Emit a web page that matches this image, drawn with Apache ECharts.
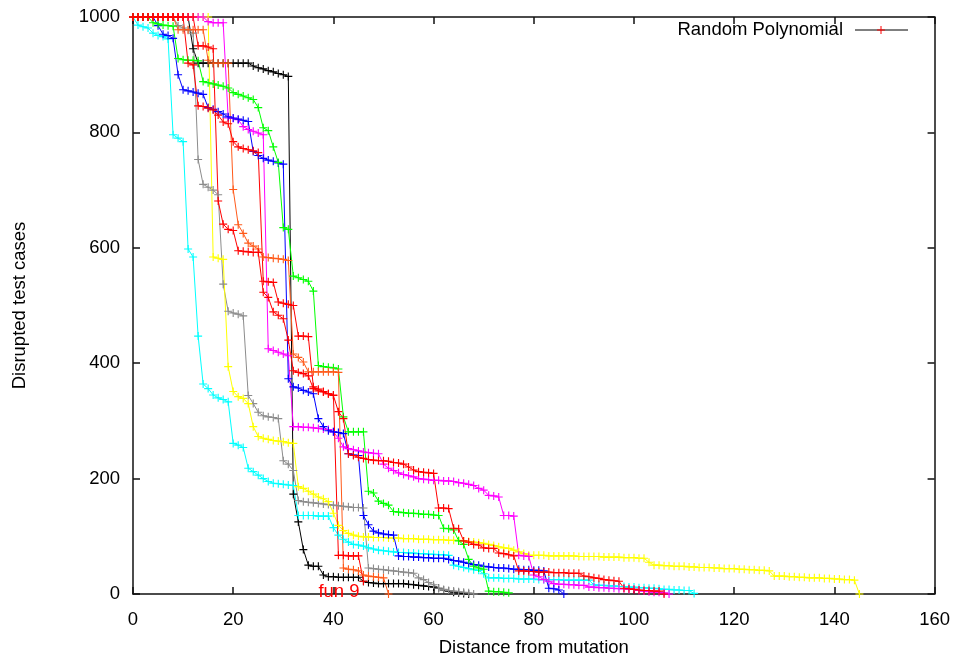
<!DOCTYPE html>
<html><head><meta charset="utf-8">
<script src="https://cdn.jsdelivr.net/npm/echarts@6/dist/echarts.min.js"></script>
<style>html,body{margin:0;padding:0;background:#fff}#c{width:953px;height:662px}</style>
</head><body><div id="c"></div>
<script>
// Each array: y values at x = 0,1,2,... (index = distance from mutation)
const blackY = [1000,1000,1000,1000,1000,1000,1000,1000,1000,1000,1000,1000,
945,920,920,920,920,920,920,920,920,920,920,920,
915,912,910,907,905,902,900,897,
173,125,77,50,48,48,33,30,30,29,29,29,29,29,
22,20,19,18,18,18,18,18,18,17,16,15,14,13,12,
10,7,5,3,2,1,0];
const grayY = [1000,1000,1000,1000,1000,1000,1000,1000,1000,
985,981,977,972,
753,710,705,700,692,
537,490,487,485,482,
344,330,315,309,307,306,304,
231,225,214,
162,160,159,158,157,156,155,154,153,152,151,150,150,149,
45,44,43,42,41,40,39,38,37,36,
28,25,20,16,10,8,6,5,4,3,2,0];
const yellowY = [1000,1000,1000,1000,1000,1000,1000,1000,1000,1000,1000,1000,1000,1000,1000,1000,
584,582,580,
394,351,342,339,330,
290,
273,270,268,266,265,264,262,261,
186,183,178,173,168,165,160,
140,119,110,105,102,
100,99,99,98,98,98,97,97,97,96,96,96,95,95,95,94,94,94,93,93,
93,92,91,90,89,88,86,84,82,80,
79,76,73,70,67,
67,67,67,66,66,66,66,66,66,65,65,65,65,65,64,64,64,64,63,63,63,62,62,
55,50,
50,49,49,48,48,48,47,47,46,46,46,45,
45,44,44,44,43,43,42,42,41,41,40,
31,
31,31,30,30,29,29,28,28,28,27,27,26,26,25,25,24,
0];
const cyanY = [1000,986,983,981,972,968,966,962,
796,790,784,
598,584,447,
364,356,345,340,337,333,
261,258,254,
218,212,206,200,195,
192,191,190,189,188,
136,136,136,136,135,135,135,
115,102,95,90,86,85,
83,80,78,76,75,74,73,72,72,71,71,70,70,69,69,68,68,67,
50,48,46,44,42,41,
35,
28,28,28,27,27,27,26,26,26,26,25,25,25,25,25,24,24,24,24,24,24,
16,15,15,14,14,13,13,12,12,11,11,10,10,9,8,8,7,7,6,6,
1];
const magentaY = [1000,1000,1000,1000,1000,1000,1000,1000,1000,1000,1000,1000,1000,1000,1000,
992,990,990,990,
825,824,822,810,805,802,799,796,
425,422,419,416,413,
290,290,289,289,288,287,286,285,
281,270,255,
252,250,248,246,245,244,243,
225,218,214,210,207,205,203,200,199,198,197,197,196,196,195,193,192,190,188,
183,180,171,170,168,
136,136,135,
67,66,65,
33,30,25,22,
18,17,17,16,16,15,15,
12,12,11,11,10,10,9,9,8,8,
6,5,4,3,3,2,
0];
const blueY = [1000,1000,1000,1000,1000,
985,970,968,963,
900,
874,872,870,868,866,
843,840,836,832,827,
825,823,821,819,
767,760,755,752,750,747,745,
373,359,357,353,350,347,
304,290,283,281,280,278,
243,241,240,
136,120,109,106,104,103,102,
66,65,65,64,64,63,63,62,62,62,
60,58,57,55,53,51,50,48,47,46,45,45,44,43,43,42,42,41,41,40,
10,9,7,0];
const greenY = [1000,1000,1000,1000,
990,988,986,985,984,
928,926,925,925,924,
888,886,884,882,880,877,
869,866,863,860,857,
843,808,803,775,748,
635,632,
551,548,545,542,525,
396,394,393,392,390,
307,281,281,281,281,
178,175,161,157,154,
143,142,141,140,140,139,138,138,137,136,
114,113,111,
92,86,60,48,45,43,
5,4,4,3,2];
const orangeY = [1000,1000,1000,1000,1000,1000,1000,1000,1000,
978,978,978,978,978,978,
925,920,920,920,920,
701,640,625,608,603,598,
584,583,582,581,580,578,
416,410,402,
385,385,385,385,385,385,384,
45,43,42,40,33,31,30,29,28,
0];
const red2Y = [1000,1000,1000,1000,1000,1000,1000,1000,1000,1000,1000,
920,917,
846,845,842,839,830,818,815,784,
775,772,770,768,765,
542,541,540,
506,504,502,500,
447,447,446,
359,355,351,347,345,
67,67,66,66,66,
22];
const red1Y = [1000,1000,1000,1000,1000,1000,1000,1000,1000,1000,1000,1000,1000,
950,950,948,945,
681,641,632,630,
595,594,593,592,592,
523,514,489,483,477,440,
387,384,382,378,
356,352,350,347,344,
316,304,
243,240,237,235,233,232,231,231,230,228,227,225,220,215,212,211,210,209,
149,149,148,114,113,
92,90,86,85,80,79,79,
71,70,68,66,
40,40,39,39,38,38,38,37,37,37,36,36,36,
31,30,28,27,25,24,23,22,
10,9,8,7,6,6,5,5,
0];

const xTicks = {min: 0, max: 160, interval: 20};
const yTicks = {min: 0, max: 1000, interval: 200};
const legendText = 'Random Polynomial';
const labelText = 'fun 9';

const FONT = '"Liberation Sans", Arial, Helvetica, sans-serif';
const FS = 18.5;
const PLUS = 'path://M0,4.3L10,4.3L10,5.7L0,5.7Z M4.3,0L5.7,0L5.7,10L4.3,10Z';

const seriesDefs = [
  ['black', blackY, '#000000'],
  ['gray', grayY, '#8c8c8c'],
  ['yellow', yellowY, '#ffff00'],
  ['cyan', cyanY, '#00ffff'],
  ['magenta', magentaY, '#ff00ff'],
  ['blue', blueY, '#0000ff'],
  ['green', greenY, '#00ff00'],
  ['orange', orangeY, '#ff5a1a'],
  ['red2', red2Y, '#ff0000'],
  ['red1', red1Y, '#ff0000']
];

const chart = echarts.init(document.getElementById('c'));
const axisLine = {show: true, onZero: false, lineStyle: {color: '#111', width: 1.5}};
const tick = {show: true, inside: true, length: 7, lineStyle: {color: '#111', width: 1.5}};
const lbl = {color: '#000', fontSize: FS, fontFamily: FONT, formatter: v => String(v)};

chart.setOption({
  animation: false,
  backgroundColor: '#fff',
  grid: {left: 133, right: 16, top: 17, bottom: 66, show: false},
  xAxis: [
    Object.assign({type: 'value', position: 'bottom', axisLine, axisTick: tick,
      axisLabel: Object.assign({margin: 16}, lbl), splitLine: {show: false},
      name: 'Distance from mutation', nameLocation: 'middle', nameGap: 44,
      nameTextStyle: {color: '#000', fontSize: FS, fontFamily: FONT}}, xTicks),
    Object.assign({type: 'value', position: 'top', axisLine, axisTick: tick,
      axisLabel: {show: false}, splitLine: {show: false}}, xTicks)
  ],
  yAxis: [
    Object.assign({type: 'value', position: 'left', axisLine, axisTick: tick,
      axisLabel: Object.assign({margin: 13}, lbl), splitLine: {show: false},
      name: 'Disrupted test cases', nameLocation: 'middle', nameGap: 104,
      nameTextStyle: {color: '#000', fontSize: FS, fontFamily: FONT}}, yTicks),
    Object.assign({type: 'value', position: 'right', axisLine, axisTick: tick,
      axisLabel: {show: false}, splitLine: {show: false}}, yTicks)
  ],
  series: seriesDefs.map(([name, ys, color]) => ({
    name, type: 'line', xAxisIndex: 0, yAxisIndex: 0,
    data: ys.map((y, i) => [i, y]),
    symbol: PLUS, symbolSize: 8, showAllSymbol: true,
    lineStyle: {color, width: 1},
    itemStyle: {color},
    emphasis: {disabled: true},
    silent: true
  })),
  graphic: [
    {type: 'text', x: 843, y: 30, z: 100,
      style: {text: legendText, fill: '#000', font: FS + 'px ' + FONT, align: 'right', verticalAlign: 'middle'}},
    {type: 'line', z: 100, shape: {x1: 855, y1: 30, x2: 908, y2: 30}, style: {stroke: '#000', lineWidth: 1}},
    {type: 'line', z: 101, shape: {x1: 877, y1: 30, x2: 885, y2: 30}, style: {stroke: '#f00', lineWidth: 1}},
    {type: 'line', z: 101, shape: {x1: 881, y1: 26, x2: 881, y2: 34}, style: {stroke: '#f00', lineWidth: 1}},
    {type: 'text', x: 339, y: 592, z: 100,
      style: {text: labelText, fill: '#f00', font: FS + 'px ' + FONT, align: 'center', verticalAlign: 'middle'}}
  ]
});
</script>
</body></html>
